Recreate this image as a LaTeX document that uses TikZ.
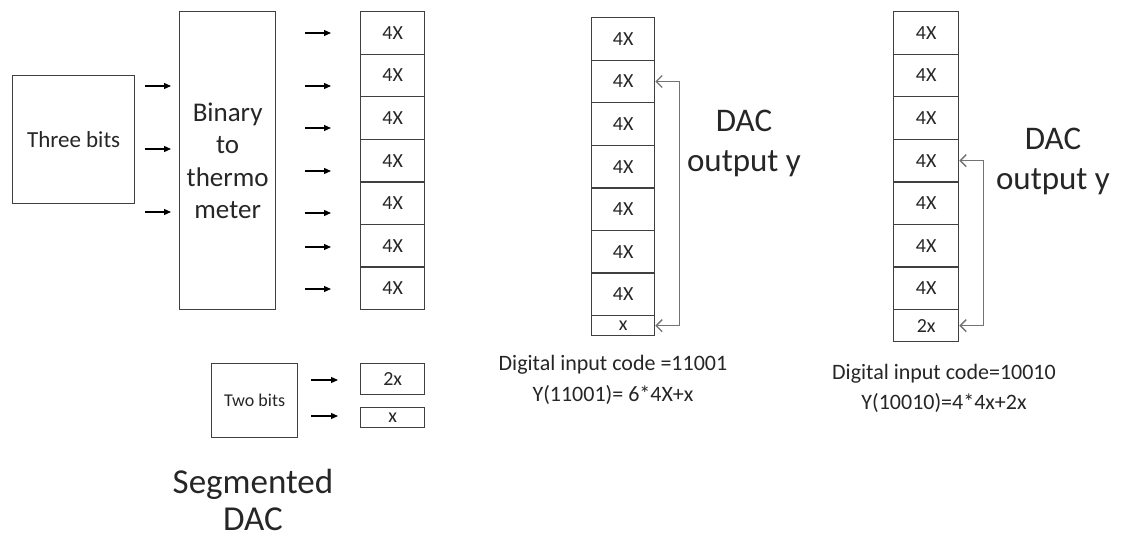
\documentclass[tikz,border=0pt]{standalone}
\usepackage{fontspec}
\setmainfont{Carlito}
\usetikzlibrary{arrows.meta}
\definecolor{boxc}{RGB}{64,64,64}
\definecolor{fbc}{RGB}{115,115,115}
\definecolor{txt}{RGB}{38,38,38}
\begin{document}
\begin{tikzpicture}[x=1pt,y=-1pt,
  box/.style={draw=boxc, line width=1.3pt, inner sep=0pt, anchor=north west, text=txt, align=center},
  cell/.style={box, minimum width=64pt, font=\fontsize{20}{24}\selectfont},
  sarr/.style={line width=1.2pt, -{Triangle[length=7pt,width=6pt]}},
  fb/.style={draw=fbc, line width=1.3pt, {Straight Barb[length=6pt,width=12pt]}-{Straight Barb[length=6pt,width=12pt]}},
  lbl/.style={text=txt, align=center, inner sep=0pt}]
\useasboundingbox[fill=white] (0,0) rectangle (1123,540);

% left part
\node[box, minimum width=122pt, minimum height=128pt, font=\fontsize{23}{28}\selectfont] (three) at (12,75) {Three bits};
\node[box, minimum width=96pt, minimum height=298pt, font=\fontsize{27}{32.5}\selectfont] (btt) at (179,11) {Binary\\to\\thermo\\meter};
\foreach \y [count=\k] in {86,149,212} {
  \coordinate (ia\k) at (145,\y);
  \coordinate (ib\k) at (171,\y);
  \draw[sarr] (ia\k) -- (ib\k);
}
\foreach \y [count=\k] in {33,86,128,171,213,247,289} {
  \coordinate (oa\k) at (305,\y);
  \coordinate (ob\k) at (331,\y);
  \draw[sarr] (oa\k) -- (ob\k);
}
\foreach \i in {1,...,7}
  \node[cell, minimum height=42.57pt] (a\i) at (360,{11+(\i-1)*42.57}) {4X};

\node[box, minimum width=86pt, minimum height=74pt, font=\fontsize{18}{22}\selectfont] (two) at (211,363) {Two bits};
\coordinate (ta1) at (311,380); \coordinate (tb1) at (338,380);
\coordinate (ta2) at (311,416); \coordinate (tb2) at (338,416);
\draw[sarr] (ta1) -- (tb1);
\draw[sarr] (ta2) -- (tb2);
\node[cell, minimum height=31pt] (b2x) at (360,363) {2x};
\node[cell, minimum height=20pt] (b1x) at (360,407) {x};

\node[lbl, font=\fontsize{35}{37}\selectfont] (seg) at (253,500) {Segmented\\DAC};

% middle column
\foreach \i in {1,...,7}
  \node[cell, minimum width=63pt, minimum height=42.57pt] (m\i) at (591,{17+(\i-1)*42.57}) {4X};
\node[cell, minimum width=63pt, minimum height=20pt] (m8) at (591,315) {x};
\draw[fb] (m2.east) -- ++(24,0) |- (m8.east);
\node[lbl, font=\fontsize{33}{40}\selectfont] (dac1) at (744,143) {DAC\\output y};
\node[lbl, font=\fontsize{22}{31}\selectfont] (cap1) at (613,380) {Digital input code =11001\\Y(11001)= 6*4X+x};

% right column
\foreach \i in {1,...,7}
  \node[cell, minimum width=65pt, minimum height=42.57pt] (r\i) at (893,{11+(\i-1)*42.57}) {4X};
\node[cell, minimum width=65pt, minimum height=32pt] (r8) at (893,309) {2x};
\draw[fb] (r4.east) -- ++(24,0) |- (r8.east);
\node[lbl, font=\fontsize{33}{40}\selectfont] (dac2) at (1053,161) {DAC\\output y};
\node[lbl, font=\fontsize{22}{30}\selectfont] (cap2) at (944,388) {Digital input code=10010\\Y(10010)=4*4x+2x};
\end{tikzpicture}
\end{document}
